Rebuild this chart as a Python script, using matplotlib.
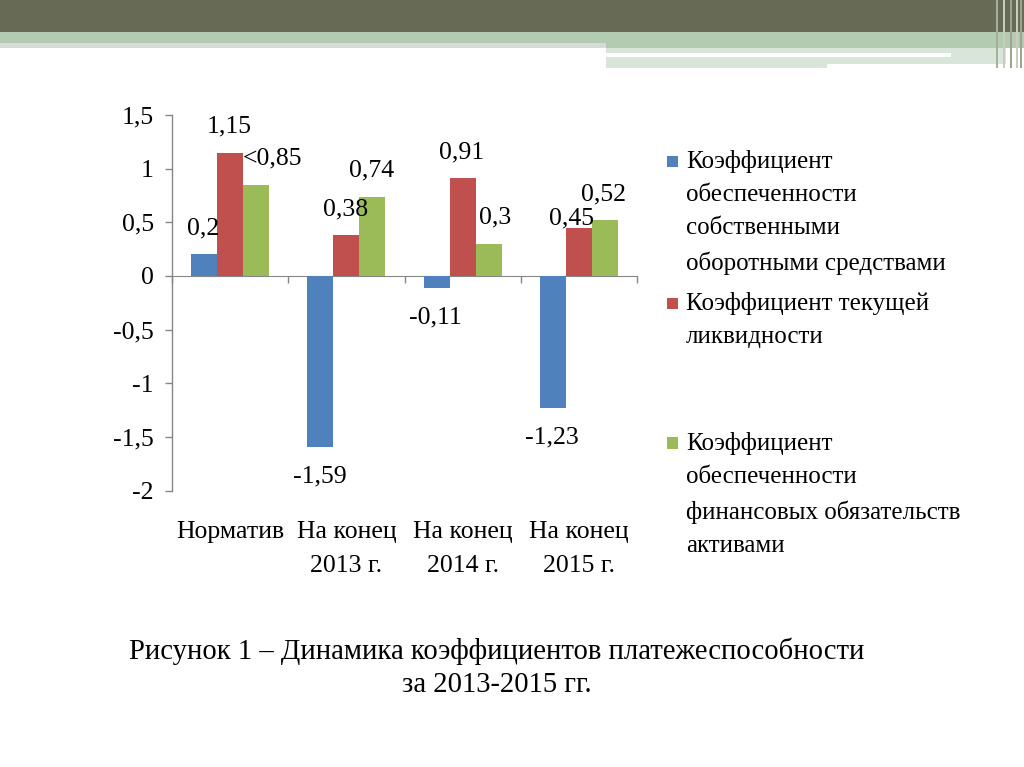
import matplotlib
matplotlib.use("Agg")
import matplotlib.pyplot as plt
import numpy as np
from matplotlib.patches import Rectangle, Patch
from matplotlib.legend_handler import HandlerPatch
from matplotlib.ticker import FuncFormatter, FixedLocator

# ---------------- data ----------------
categories = ["Норматив", "На конец\n2013 г.", "На конец\n2014 г.", "На конец\n2015 г."]
series_names = [
    "Коэффициент\nобеспеченности\nсобственными\nоборотными средствами",
    "Коэффициент текущей\nликвидности\n\n",
    "Коэффициент\nобеспеченности\nфинансовых обязательств\nактивами",
]
own_capital = [0.2, -1.59, -0.11, -1.23]
current_liquidity = [1.15, 0.38, 0.91, 0.45]
liabilities_assets = [0.85, 0.74, 0.3, 0.52]
label_prefix_green = ["<", "", "", ""]
y_ticks = [-2, -1.5, -1, -0.5, 0, 0.5, 1, 1.5]
caption_1 = "Рисунок 1 – Динамика коэффициентов платежеспособности"
caption_2 = "за 2013-2015 гг."

colors = ["#4F81BD", "#C0504D", "#9BBB59"]
axis_gray = "#868686"
FONT = "Liberation Serif"
plt.rcParams["font.family"] = [FONT, "DejaVu Serif"]

W, H = 1024, 767
fig = plt.figure(figsize=(W / 100, H / 100), dpi=100)
fig.patch.set_facecolor("white")


def px_rect(x0, y0, x1, y1, color):
    fig.add_artist(Rectangle((x0 / W, 1 - y1 / H), (x1 - x0) / W, (y1 - y0) / H,
                             transform=fig.transFigure, facecolor=color,
                             edgecolor="none", zorder=0))


# slide decoration (top banner)
px_rect(0, 0, 1024, 32, "#676B55")
px_rect(0, 32, 1024, 43, "#B2CBB1")
px_rect(0, 43, 606, 48, "#D3DDD5")
px_rect(606, 43, 1024, 48, "#B2CBB1")
px_rect(606, 48, 1006, 53, "#D8E5D8")
px_rect(606, 53, 951, 57, "#FFFFFF")
px_rect(951, 53, 1006, 57, "#D8E5D8")
px_rect(606, 57, 1006, 64, "#D8E5D8")
px_rect(606, 64, 827, 68, "#D8E5D8")
for xx, c in [(996, "#A8AE9C"), (1003, "#C9CDBF"), (1010, "#9DA391"), (1016, "#C9CDBF"), (1020, "#9DA391")]:
    px_rect(xx, 0, xx + 2, 68, c)

# ---------------- axes ----------------
ax_l, ax_r, ax_t, ax_b = 172, 637, 115, 490.5
ax = fig.add_axes([ax_l / W, 1 - ax_b / H, (ax_r - ax_l) / W, (ax_b - ax_t) / H])

x = np.arange(len(categories))
bw = 0.224
series = [own_capital, current_liquidity, liabilities_assets]
for i, (vals, col) in enumerate(zip(series, colors)):
    ax.bar(x + (i - 1) * bw, vals, width=bw, color=col, edgecolor="none", zorder=2)

ax.set_xlim(-0.5, len(categories) - 0.5)
ax.set_ylim(-2, 1.5)

fmt = lambda v: f"{v:g}".replace(".", ",")

# y axis
ax.yaxis.set_major_locator(FixedLocator(y_ticks))
ax.yaxis.set_major_formatter(FuncFormatter(lambda v, p: fmt(v)))
ax.tick_params(axis="y", direction="out", length=5, width=1, color=axis_gray,
               labelsize=18.5, pad=8)
for s in ["top", "right", "bottom"]:
    ax.spines[s].set_visible(False)
ax.spines["left"].set_color(axis_gray)
ax.spines["left"].set_linewidth(1)

# category labels at bottom
ax.set_xticks(x)
ax.set_xticklabels(categories, fontsize=18.5, linespacing=1.72)
ax.tick_params(axis="x", length=0, pad=22)

# zero line with category dividers
sec = ax.secondary_xaxis(0, transform=ax.transData)
sec.set_xticks(np.arange(len(categories) + 1) - 0.5)
sec.tick_params(axis="x", direction="out", length=5, width=1, color=axis_gray,
                labelbottom=False, labeltop=False)
for s in sec.spines.values():
    s.set_color(axis_gray)

# data labels
offset_up, offset_down = 26, 30  # px
nudges = {(2, 0): (17, 0), (2, 2): (7, 0), (1, 3): (-6, 17)}
for si, vals in enumerate(series):
    for ci, v in enumerate(vals):
        dx, dy = nudges.get((si, ci), (0, 0))
        base = offset_up if v >= 0 else -offset_down
        txt = fmt(v)
        if si == 2:
            txt = label_prefix_green[ci] + txt
        ax.annotate(txt, xy=(x[ci] + (si - 1) * bw, v), xytext=((dx - 1) * 0.72, (base - dy) * 0.72),
                    textcoords="offset points", ha="center", va="center", fontsize=18.5, zorder=3)


# legend: square marker placed at the bottom of a slightly taller handle box
def square_patch(legend, orig_handle, xdescent, ydescent, width, height, fontsize):
    s = 0.45 * fontsize
    return Rectangle((-xdescent, -ydescent), s, s)


handles = [Patch(facecolor=c, edgecolor="none") for c in colors]
leg = ax.legend(handles, series_names, loc="upper left",
                bbox_to_anchor=(667 / W, 1 - 150 / H), bbox_transform=fig.transFigure,
                frameon=False, fontsize=18, handlelength=0.45, handleheight=0.66,
                handletextpad=0.3, labelspacing=0.68, borderpad=0, borderaxespad=0,
                handler_map={Patch: HandlerPatch(patch_func=square_patch)})
for t in leg.get_texts():
    t.set_linespacing(1.66)
for col in leg._legend_handle_box.get_children():
    for row in col.get_children():
        row.align = "top"

# caption
fig.text(497 / W, 1 - 651 / H, caption_1, ha="center", va="center", fontsize=20.6)
fig.text(497 / W, 1 - 685 / H, caption_2, ha="center", va="center", fontsize=20.6)

fig.savefig("out.png", dpi=100)
